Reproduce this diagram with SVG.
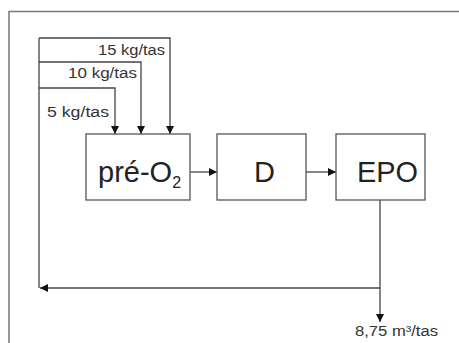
<svg xmlns="http://www.w3.org/2000/svg" width="459" height="343" viewBox="0 0 459 343">
<defs>
<style>
.ln{fill:none;stroke:#444;stroke-width:1.3}
.bx{fill:#fff;stroke:#555;stroke-width:1.3}
.lbl{font-family:"Liberation Sans",Arial,sans-serif;font-size:14px;fill:#333}
.big{font-family:"Liberation Sans",Arial,sans-serif;font-size:29px;fill:#222}
.frame{fill:none;stroke:#777;stroke-width:1.5}
</style>
<marker id="ah" viewBox="0 0 10 10" refX="10" refY="5" markerWidth="8" markerHeight="8" markerUnits="userSpaceOnUse" orient="auto">
<path d="M0,0 L10,5 L0,10 z" fill="#111"/>
</marker>
</defs>
<rect width="459" height="343" fill="#fff"/>
<path class="frame" d="M9,343 V11.5 H459"/>
<g id="connectors">
<path class="ln" d="M39,38 H170 V134" marker-end="url(#ah)"/>
<path class="ln" d="M39,62 H141 V134" marker-end="url(#ah)"/>
<path class="ln" d="M39,88 H115 V134" marker-end="url(#ah)"/>
<path class="ln" d="M39,38 V288"/>
<path class="ln" d="M190,172 H217" marker-end="url(#ah)"/>
<path class="ln" d="M306,172 H336" marker-end="url(#ah)"/>
<path class="ln" d="M380,200 V322" marker-end="url(#ah)"/>
<path class="ln" d="M380,288 H40" marker-end="url(#ah)"/>
<text class="lbl" x="98" y="55" textLength="67" lengthAdjust="spacingAndGlyphs">15 kg/tas</text>
<text class="lbl" x="68" y="78" textLength="69" lengthAdjust="spacingAndGlyphs">10 kg/tas</text>
<text class="lbl" x="47" y="117" textLength="62" lengthAdjust="spacingAndGlyphs">5 kg/tas</text>
<text class="lbl" x="355" y="336" font-size="13" textLength="83" lengthAdjust="spacingAndGlyphs">8,75 m³/tas</text>
</g>
<g id="preO2">
<rect class="bx" x="86" y="134" width="104" height="66"/>
<text class="big" x="98" y="182">pré-O<tspan font-size="16" dy="6">2</tspan></text>
</g>
<g id="D">
<rect class="bx" x="217" y="134" width="89" height="66"/>
<text class="big" x="264.5" y="182" font-size="26" text-anchor="middle">D</text>
</g>
<g id="EPO">
<rect class="bx" x="336" y="134" width="89" height="66"/>
<text class="big" x="387.5" y="182" font-size="26" text-anchor="middle" textLength="61" lengthAdjust="spacingAndGlyphs">EPO</text>
</g>
</svg>
